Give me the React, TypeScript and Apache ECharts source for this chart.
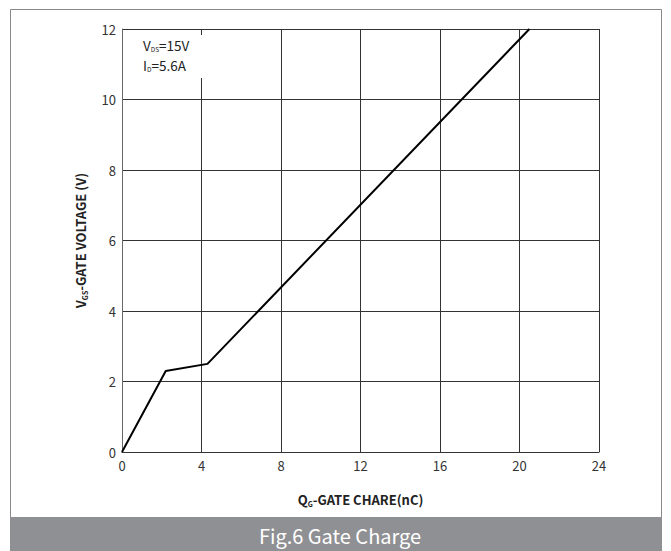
import React, { useEffect, useRef } from "react";
import * as echarts from "echarts";

const xTicks = [0, 4, 8, 12, 16, 20, 24];
const yTicks = [0, 2, 4, 6, 8, 10, 12];
const gateCharge = [0, 2.2, 4.3, 20.5];
const gateVoltage = [0, 2.3, 2.5, 12];
const caption = "Fig.6 Gate Charge";

const FONT = "'Noto Sans CJK SC', 'Noto Sans', sans-serif";

export default function App() {
  const ref = useRef<HTMLDivElement>(null);
  useEffect(() => {
    if (!ref.current) return;
    const chart = echarts.init(ref.current, undefined, { renderer: "svg" });
    const data = gateCharge.map((x, i) => [x, gateVoltage[i]]);
    const nameRich = {
      b: { fontFamily: FONT, fontSize: 13, fontWeight: "bold", color: "#222", lineHeight: 16 },
      s: { fontFamily: FONT, fontSize: 7, fontWeight: "bold", color: "#222", verticalAlign: "bottom", lineHeight: 10 },
    };
    const annRich = {
      v: { fontFamily: FONT, fontSize: 13.5, fill: "#222", lineHeight: 14 },
      s: { fontFamily: FONT, fontSize: 6.5, fill: "#222", verticalAlign: "bottom", lineHeight: 9 },
    };
    chart.setOption({
      animation: false,
      backgroundColor: "#fff",
      grid: { left: 122, right: 72, top: 29, bottom: 99 },
      xAxis: {
        type: "value",
        min: xTicks[0],
        max: xTicks[xTicks.length - 1],
        interval: 4,
        name: "{b|Q}{s|G}{b|-GATE CHARE(nC)}",
        nameLocation: "middle",
        nameGap: 39,
        nameTextStyle: { rich: nameRich },
        axisLine: { show: true, lineStyle: { color: "#333", width: 1 } },
        axisTick: { show: false },
        axisLabel: { fontFamily: FONT, fontSize: 13, color: "#333", margin: 7 },
        splitLine: { show: true, lineStyle: { color: "#333", width: 1 } },
      },
      yAxis: {
        type: "value",
        min: yTicks[0],
        max: yTicks[yTicks.length - 1],
        interval: 2,
        name: "{b|V}{s|GS}{b|-GATE VOLTAGE (V)}",
        nameLocation: "middle",
        nameRotate: 90,
        nameGap: 34,
        nameTextStyle: { rich: nameRich },
        axisLine: { show: true, lineStyle: { color: "#666", width: 1 } },
        axisTick: { show: false },
        axisLabel: { fontFamily: FONT, fontSize: 13, color: "#333", margin: 6 },
        splitLine: { show: true, lineStyle: { color: "#333", width: 1 } },
      },
      series: [
        {
          type: "line",
          data,
          showSymbol: false,
          symbol: "none",
          lineStyle: { color: "#000", width: 2 },
          z: 3,
        },
      ],
      graphic: [
        {
          type: "rect",
          shape: { x: 10.5, y: 9.5, width: 651, height: 545 },
          style: { fill: "none", stroke: "#888", lineWidth: 1 },
          z: 10,
        },
        {
          type: "rect",
          shape: { x: 10, y: 517, width: 652, height: 34 },
          style: { fill: "#8f9093" },
          z: 11,
        },
        {
          type: "text",
          x: 340,
          y: 535,
          style: {
            text: caption,
            fontFamily: FONT,
            fontSize: 20,
            fill: "#fff",
            align: "center",
            verticalAlign: "middle",
          },
          z: 12,
        },
        {
          type: "rect",
          shape: { x: 124, y: 35, width: 82, height: 43 },
          style: { fill: "#fff" },
          z: 5,
        },
        {
          type: "text",
          x: 143,
          y: 45,
          style: { text: "{v|V}{s|DS}{v|=15V}", verticalAlign: "middle", rich: annRich },
          z: 6,
        },
        {
          type: "text",
          x: 143,
          y: 65,
          style: { text: "{v|I}{s|D}{v|=5.6A}", verticalAlign: "middle", rich: annRich },
          z: 6,
        },
      ],
    });
    return () => chart.dispose();
  }, []);
  return (
    <div
      ref={ref}
      style={{ position: "fixed", left: 0, top: 0, width: 671, height: 551 }}
    />
  );
}
